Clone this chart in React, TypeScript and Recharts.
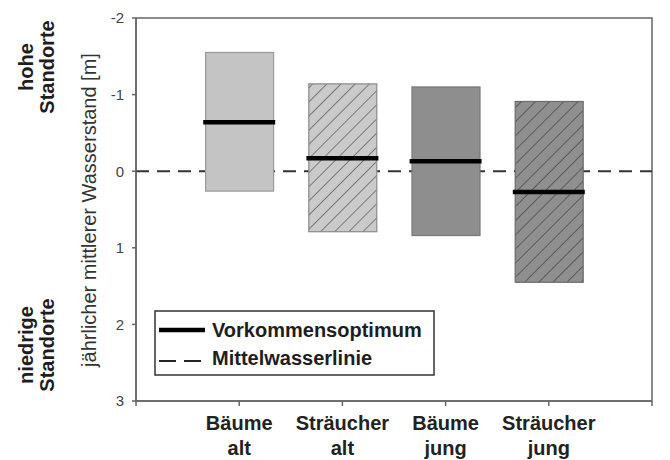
import React from 'react';
import {
  ComposedChart,
  Bar,
  Scatter,
  XAxis,
  YAxis,
  ReferenceLine,
  ReferenceArea,
  Legend,
} from 'recharts';

const categories = ['Bäume alt', 'Sträucher alt', 'Bäume jung', 'Sträucher jung'];
const tickLines = [
  ['Bäume', 'alt'],
  ['Sträucher', 'alt'],
  ['Bäume', 'jung'],
  ['Sträucher', 'jung'],
];
const rangeTop = [-1.55, -1.14, -1.1, -0.91];
const rangeBottom = [0.26, 0.79, 0.84, 1.45];
const optimum = [-0.64, -0.17, -0.13, 0.27];
const categoryPos = [1, 2, 3, 4];
const yTicks = [-2, -1, 0, 1, 2, 3];
const xTicks = [0, 1, 2, 3, 4, 5];
const legendLabels = ['Vorkommensoptimum', 'Mittelwasserlinie'];

const barStyles = [
  { fill: '#c4c4c4', stroke: '#9a9a9a', hatch: null as string | null },
  { fill: '#cacaca', stroke: '#8a8a8a', hatch: '#555555' },
  { fill: '#8e8e8e', stroke: '#777777', hatch: null as string | null },
  { fill: '#8f8f8f', stroke: '#6a6a6a', hatch: '#444444' },
];

const data = categories.map((name, i) => ({
  name,
  x: categoryPos[i],
  range: [rangeTop[i], rangeBottom[i]],
  opt: optimum[i],
}));

const FONT = '"Liberation Sans", Arial, Helvetica, sans-serif';

const BarShape = (props: any) => {
  const { x, y, width, height, index } = props;
  const st = barStyles[index] || barStyles[0];
  const top = Math.min(y, y + height);
  const h = Math.abs(height);
  const pid = `hatch-${index}`;
  return (
    <g>
      {st.hatch && (
        <defs>
          <pattern
            id={pid}
            width={10}
            height={10}
            patternUnits="userSpaceOnUse"
            patternTransform="rotate(45)"
          >
            <rect width={10} height={10} fill={st.fill} />
            <line x1={0} y1={0} x2={0} y2={10} stroke={st.hatch} strokeWidth={1.4} />
          </pattern>
        </defs>
      )}
      <rect
        x={x}
        y={top}
        width={width}
        height={h}
        fill={st.hatch ? `url(#${pid})` : st.fill}
        stroke={st.stroke}
        strokeWidth={1.2}
      />
    </g>
  );
};

const OptShape = (props: any) => {
  const { cx, cy } = props;
  if (cx == null || cy == null) return null;
  return <line x1={cx - 36} x2={cx + 36} y1={cy} y2={cy} stroke="#000" strokeWidth={4.5} />;
};

const XTick = (props: any) => {
  const { x, y, payload } = props;
  const idx = categoryPos.indexOf(payload.value);
  if (idx < 0) return null;
  const lines = tickLines[idx];
  return (
    <g>
      {lines.map((t, k) => (
        <text
          key={k}
          x={x}
          y={y + 22 + k * 25}
          textAnchor="middle"
          fontFamily={FONT}
          fontWeight="bold"
          fontSize={20}
          fill="#222"
        >
          {t}
        </text>
      ))}
    </g>
  );
};

const YLabel = () => (
  <g fontFamily={FONT} fill="#1e1e1e">
    <text transform="translate(33,67) rotate(-90)" textAnchor="middle" fontSize={20} fontWeight="bold">
      hohe
    </text>
    <text transform="translate(54,67) rotate(-90)" textAnchor="middle" fontSize={20} fontWeight="bold">
      Standorte
    </text>
    <text transform="translate(33,345) rotate(-90)" textAnchor="middle" fontSize={20} fontWeight="bold">
      niedrige
    </text>
    <text transform="translate(54,345) rotate(-90)" textAnchor="middle" fontSize={20} fontWeight="bold">
      Standorte
    </text>
    <text transform="translate(96,210) rotate(-90)" textAnchor="middle" fontSize={20} fill="#333">
      jährlicher mittlerer Wasserstand [m]
    </text>
  </g>
);

const LegendBox = () => (
  <svg width={282} height={67} style={{ display: 'block' }}>
    <rect x={1} y={1} width={279} height={64} fill="#fff" stroke="#333" strokeWidth={1.5} />
    <line x1={5} x2={51} y1={20} y2={20} stroke="#000" strokeWidth={4.5} />
    <line x1={5} x2={48} y1={51} y2={51} stroke="#222" strokeWidth={2} strokeDasharray="17 8" />
    <text x={58} y={27} fontFamily={FONT} fontWeight="bold" fontSize={20} fill="#1e1e1e">
      {legendLabels[0]}
    </text>
    <text x={58} y={55} fontFamily={FONT} fontWeight="bold" fontSize={20} fill="#1e1e1e">
      {legendLabels[1]}
    </text>
  </svg>
);

export default function App() {
  return (
    <div style={{ position: 'absolute', left: 0, top: 0, width: 670, height: 460, background: '#fff' }}>
      <ComposedChart
        width={670}
        height={460}
        data={data}
        margin={{ top: 18, right: 18, bottom: 0, left: 0 }}
      >
        <ReferenceArea
          x1={0}
          x2={5}
          y1={-2}
          y2={3}
          fill="none"
          stroke="#666"
          strokeWidth={1.5}
          ifOverflow="extendDomain"
        />
        <ReferenceLine
          y={0}
          stroke="#333"
          strokeWidth={2}
          strokeDasharray="13 8"
          {...({ zIndex: 250 } as any)}
        />
        <XAxis
          dataKey="x"
          type="number"
          domain={[0, 5]}
          ticks={xTicks}
          interval={0}
          height={59}
          tickSize={5}
          tick={<XTick />}
          axisLine={{ stroke: '#666', strokeWidth: 1.5 }}
          tickLine={{ stroke: '#666', strokeWidth: 1.5 }}
          allowDataOverflow
        />
        <YAxis
          type="number"
          domain={[-2, 3]}
          ticks={yTicks}
          reversed
          width={136}
          interval={0}
          tickSize={4}
          tickMargin={8}
          tick={{ fontSize: 15, fill: '#444', fontFamily: FONT }}
          axisLine={{ stroke: '#666', strokeWidth: 1.5 }}
          tickLine={{ stroke: '#666', strokeWidth: 1.5 }}
          allowDataOverflow
          label={{ content: () => <YLabel /> }}
        />
        <Bar dataKey="range" barSize={68} shape={<BarShape />} isAnimationActive={false} />
        <Scatter dataKey="opt" shape={<OptShape />} isAnimationActive={false} />
        <Legend
          layout="horizontal"
          verticalAlign="middle"
          align="center"
          content={() => <LegendBox />}
          wrapperStyle={{ left: 154, top: 310, width: 282, height: 67 }}
        />
      </ComposedChart>
    </div>
  );
}
